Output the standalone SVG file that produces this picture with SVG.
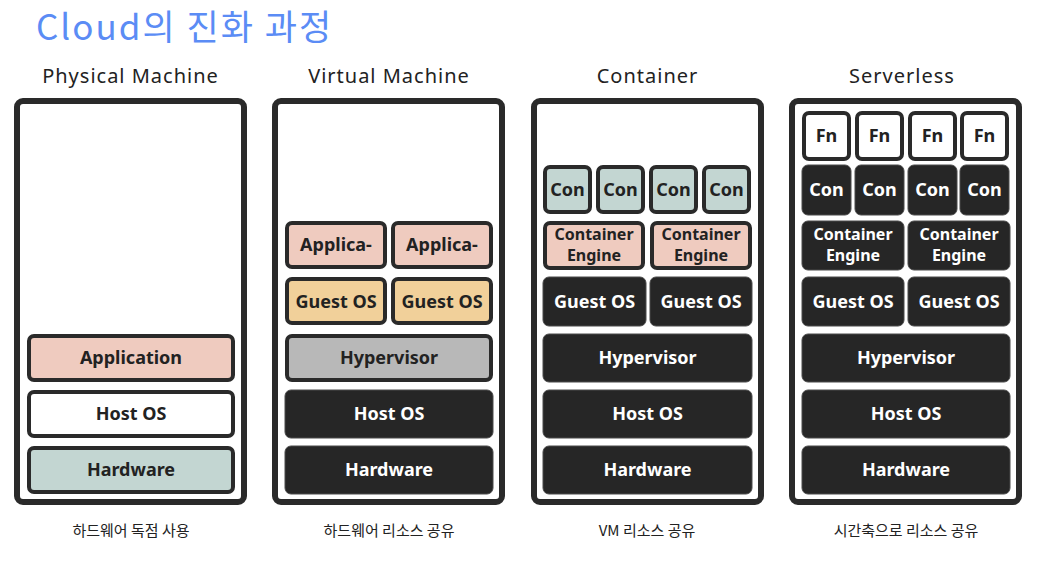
<svg xmlns="http://www.w3.org/2000/svg" width="1042" height="562" viewBox="0 0 1042 562">
<style>
.title{font-family:"Noto Sans CJK KR","Noto Sans",sans-serif;font-size:35px;fill:#5b8cf5;letter-spacing:2px}
.head{font-family:"Noto Sans","Noto Sans CJK KR",sans-serif;font-size:20px;fill:#222;text-anchor:middle;letter-spacing:1px}
.cap{font-family:"Noto Sans CJK KR","Noto Sans",sans-serif;font-size:15px;fill:#222;text-anchor:middle}
.panel{fill:#fff;stroke:#2a2a2a;stroke-width:6}
.ob{stroke:#2a2a2a;stroke-width:4}
.dark{fill:#262626;stroke:#4a4a4a;stroke-width:1}
.pink{fill:#efcbbf}
.teal{fill:#c3d6d2}
.white{fill:#fff}
.orange{fill:#f1d09a}
.gray{fill:#b8b8b8}
.lb{font-family:"Noto Sans","Noto Sans CJK KR",sans-serif;font-weight:bold;font-size:18px;fill:#222;text-anchor:middle}
.lw{font-family:"Noto Sans","Noto Sans CJK KR",sans-serif;font-weight:bold;font-size:18px;fill:#fff;text-anchor:middle}
.sm{font-size:16px}
</style>
<text class="title" x="36" y="40">Cloud의 진화 과정</text>

<g id="physical-machine">
<text class="head" x="130.5" y="83">Physical Machine</text>
<rect class="panel" x="17" y="101" width="227" height="401" rx="6"/>
<g id="pm-app"><rect class="ob pink" x="29" y="336" width="204" height="44" rx="5"/><text class="lb" x="131" y="364">Application</text></g>
<g id="pm-hostos"><rect class="ob white" x="29" y="392" width="204" height="44" rx="5"/><text class="lb" x="131" y="420">Host OS</text></g>
<g id="pm-hw"><rect class="ob teal" x="29" y="448" width="204" height="44" rx="5"/><text class="lb" x="131" y="476">Hardware</text></g>
<text class="cap" x="131" y="536">하드웨어 독점 사용</text>
</g>

<g id="virtual-machine">
<text class="head" x="389" y="83">Virtual Machine</text>
<rect class="panel" x="275" y="101" width="227" height="401" rx="6"/>
<g id="vm-app1"><rect class="ob pink" x="287" y="223" width="98" height="44" rx="5"/><text class="lb" x="336" y="251">Applica-</text></g>
<g id="vm-app2"><rect class="ob pink" x="393" y="223" width="98" height="44" rx="5"/><text class="lb" x="442" y="251">Applica-</text></g>
<g id="vm-guest1"><rect class="ob orange" x="287" y="279" width="98" height="44" rx="5"/><text class="lb" x="336" y="308">Guest OS</text></g>
<g id="vm-guest2"><rect class="ob orange" x="393" y="279" width="98" height="44" rx="5"/><text class="lb" x="442" y="308">Guest OS</text></g>
<g id="vm-hyper"><rect class="ob gray" x="287" y="336" width="204" height="44" rx="5"/><text class="lb" x="389" y="364">Hypervisor</text></g>
<g id="vm-hostos"><rect class="dark" x="285" y="390" width="208" height="48" rx="6"/><text class="lw" x="389" y="420">Host OS</text></g>
<g id="vm-hw"><rect class="dark" x="285" y="446" width="208" height="48" rx="6"/><text class="lw" x="389" y="476">Hardware</text></g>
<text class="cap" x="389" y="536">하드웨어 리소스 공유</text>
</g>

<g id="container">
<text class="head" x="647.5" y="83">Container</text>
<rect class="panel" x="534" y="101" width="227" height="401" rx="6"/>
<g id="ct-con1"><rect class="ob teal" x="545" y="167" width="45" height="45" rx="5"/><text class="lb" x="567.5" y="196">Con</text></g>
<g id="ct-con2"><rect class="ob teal" x="598" y="167" width="45" height="45" rx="5"/><text class="lb" x="620.5" y="196">Con</text></g>
<g id="ct-con3"><rect class="ob teal" x="651" y="167" width="45" height="45" rx="5"/><text class="lb" x="673.5" y="196">Con</text></g>
<g id="ct-con4"><rect class="ob teal" x="704" y="167" width="45" height="45" rx="5"/><text class="lb" x="726.5" y="196">Con</text></g>
<g id="ct-eng1"><rect class="ob pink" x="545" y="223" width="98" height="45" rx="5"/><text class="lb sm" x="594" y="240">Container</text><text class="lb sm" x="594" y="261">Engine</text></g>
<g id="ct-eng2"><rect class="ob pink" x="652" y="223" width="98" height="45" rx="5"/><text class="lb sm" x="701" y="240">Container</text><text class="lb sm" x="701" y="261">Engine</text></g>
<g id="ct-guest1"><rect class="dark" x="543" y="277" width="103" height="49" rx="6"/><text class="lw" x="594.5" y="308">Guest OS</text></g>
<g id="ct-guest2"><rect class="dark" x="650" y="277" width="102" height="49" rx="6"/><text class="lw" x="701" y="308">Guest OS</text></g>
<g id="ct-hyper"><rect class="dark" x="543" y="334" width="209" height="48" rx="6"/><text class="lw" x="647.5" y="364">Hypervisor</text></g>
<g id="ct-hostos"><rect class="dark" x="543" y="390" width="209" height="48" rx="6"/><text class="lw" x="647.5" y="420">Host OS</text></g>
<g id="ct-hw"><rect class="dark" x="543" y="446" width="209" height="48" rx="6"/><text class="lw" x="647.5" y="476">Hardware</text></g>
<text class="cap" x="647" y="536">VM 리소스 공유</text>
</g>

<g id="serverless">
<text class="head" x="902" y="83">Serverless</text>
<rect class="panel" x="792" y="101" width="227" height="401" rx="6"/>
<g id="sl-fn1"><rect class="ob white" x="804" y="113" width="45" height="46" rx="5"/><text class="lb" x="826.5" y="142">Fn</text></g>
<g id="sl-fn2"><rect class="ob white" x="857" y="113" width="45" height="46" rx="5"/><text class="lb" x="879.5" y="142">Fn</text></g>
<g id="sl-fn3"><rect class="ob white" x="910" y="113" width="45" height="46" rx="5"/><text class="lb" x="932.5" y="142">Fn</text></g>
<g id="sl-fn4"><rect class="ob white" x="962" y="113" width="45" height="46" rx="5"/><text class="lb" x="984.5" y="142">Fn</text></g>
<g id="sl-con1"><rect class="dark" x="802" y="165" width="49" height="50" rx="6"/><text class="lw" x="826.5" y="196">Con</text></g>
<g id="sl-con2"><rect class="dark" x="855" y="165" width="49" height="50" rx="6"/><text class="lw" x="879.5" y="196">Con</text></g>
<g id="sl-con3"><rect class="dark" x="908" y="165" width="49" height="50" rx="6"/><text class="lw" x="932.5" y="196">Con</text></g>
<g id="sl-con4"><rect class="dark" x="960" y="165" width="49" height="50" rx="6"/><text class="lw" x="984.5" y="196">Con</text></g>
<g id="sl-eng1"><rect class="dark" x="802" y="221" width="102" height="49" rx="6"/><text class="lw sm" x="853" y="240">Container</text><text class="lw sm" x="853" y="261">Engine</text></g>
<g id="sl-eng2"><rect class="dark" x="908" y="221" width="102" height="49" rx="6"/><text class="lw sm" x="959" y="240">Container</text><text class="lw sm" x="959" y="261">Engine</text></g>
<g id="sl-guest1"><rect class="dark" x="802" y="277" width="102" height="49" rx="6"/><text class="lw" x="853" y="308">Guest OS</text></g>
<g id="sl-guest2"><rect class="dark" x="908" y="277" width="102" height="49" rx="6"/><text class="lw" x="959" y="308">Guest OS</text></g>
<g id="sl-hyper"><rect class="dark" x="802" y="334" width="208" height="48" rx="6"/><text class="lw" x="906" y="364">Hypervisor</text></g>
<g id="sl-hostos"><rect class="dark" x="802" y="390" width="208" height="48" rx="6"/><text class="lw" x="906" y="420">Host OS</text></g>
<g id="sl-hw"><rect class="dark" x="802" y="446" width="208" height="48" rx="6"/><text class="lw" x="906" y="476">Hardware</text></g>
<text class="cap" x="906" y="536">시간축으로 리소스 공유</text>
</g>

<g id="connectors"/>
</svg>
